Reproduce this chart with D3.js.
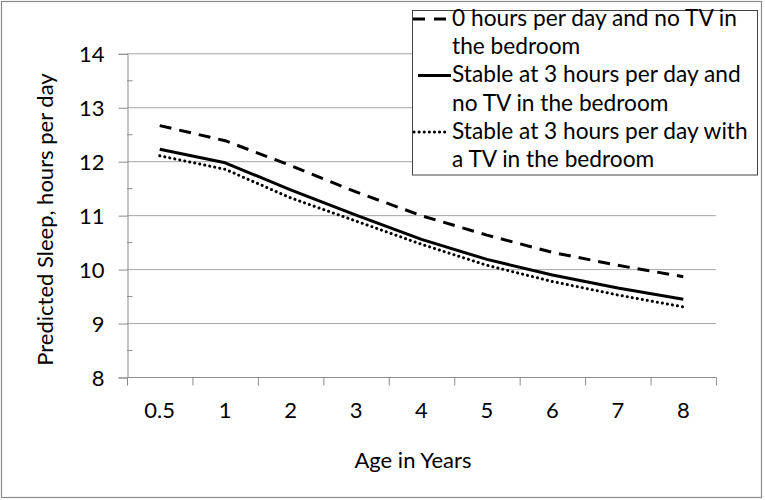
<!DOCTYPE html>
<html>
<head>
<meta charset="utf-8">
<script src="https://cdn.jsdelivr.net/npm/d3@7"></script>
<style>
body{margin:0;background:#fff;}
text{font-family:Lato,"Open Sans",sans-serif;fill:#000;}
</style>
</head>
<body>
<svg id="chart" width="765" height="500"></svg>
<script>
const categories = ["0.5","1","2","3","4","5","6","7","8"];
const seriesNames = [
  ["0 hours per day and no TV in","the bedroom"],
  ["Stable at 3 hours per day and","no TV in the bedroom"],
  ["Stable at 3 hours per day with","a TV in the bedroom"]
];
const noTV0 = [12.66, 12.38, 11.92, 11.43, 10.99, 10.63, 10.31, 10.07, 9.86];
const stableNoTV = [12.22, 11.97, 11.47, 11.0, 10.55, 10.18, 9.89, 9.65, 9.44];
const stableTV = [12.1, 11.85, 11.32, 10.89, 10.46, 10.07, 9.77, 9.52, 9.3];
const yTicks = [8, 9, 10, 11, 12, 13, 14];
const yMinor = [8.5, 9.5, 10.5, 11.5, 12.5, 13.5];

const svg = d3.select("#chart");
const L = 127, R = 716, T = 53.3, B = 377;

svg.append("rect").attr("x",1.5).attr("y",1.5).attr("width",760).attr("height",496)
  .attr("fill","#fff").attr("stroke","#8c8c8c").attr("stroke-width",1.2);

const x = d3.scaleBand().domain(categories).range([L,R]);
const y = d3.scaleLinear().domain([8,14]).range([B,T]);

// gridlines
svg.append("g").selectAll("line").data(yTicks.slice(1)).join("line")
  .attr("x1",L).attr("x2",R).attr("y1",d=>y(d)+0.5).attr("y2",d=>y(d)+0.5)
  .attr("stroke","#a6a6a6").attr("stroke-width",1);

// y axis
const yAxis = d3.axisLeft(y).tickValues(yTicks).tickSize(9).tickPadding(14).tickFormat(d3.format("d"));
const gy = svg.append("g").attr("transform",`translate(${L+0.5},0.5)`).call(yAxis);
gy.select(".domain").attr("stroke","#8c8c8c");
gy.selectAll(".tick line").attr("stroke","#8c8c8c");
gy.selectAll(".tick text").attr("font-size",22).attr("font-family","Lato").attr("fill","#000").attr("dy","0.35em");
// minor ticks
svg.append("g").selectAll("line").data(yMinor).join("line")
  .attr("x1",L).attr("x2",L+5.5).attr("y1",d=>y(d)+0.5).attr("y2",d=>y(d)+0.5)
  .attr("stroke","#8c8c8c");

// x axis
const gx = svg.append("g").attr("transform",`translate(0,${B+0.5})`);
gx.append("line").attr("x1",L).attr("x2",R).attr("stroke","#8c8c8c");
const bounds = categories.map(c=>x(c)).concat([R]);
gx.selectAll("line.tk").data(bounds).join("line").attr("class","tk")
  .attr("x1",d=>d+0.5).attr("x2",d=>d+0.5).attr("y1",0).attr("y2",8).attr("stroke","#8c8c8c");
gx.selectAll("text").data(categories).join("text")
  .attr("x",d=>x(d)+x.bandwidth()/2).attr("y",33).attr("dy","0.35em")
  .attr("text-anchor","middle").attr("font-size",22).text(d=>d);

// titles
svg.append("text").attr("x",413).attr("y",460).attr("dy","0.35em").attr("text-anchor","middle")
  .attr("font-size",22).text("Age in Years");
svg.append("text").attr("transform","translate(45,219.5) rotate(-90)").attr("dy","0.35em")
  .attr("text-anchor","middle").attr("font-size",22).text("Predicted Sleep, hours per day");

// lines
const line = d3.line().x((d,i)=>x(categories[i])+x.bandwidth()/2).y(d=>y(d));
const styles = [
  {data:noTV0, dash:"12,8", cap:"butt"},
  {data:stableNoTV, dash:null, cap:"butt"},
  {data:stableTV, dash:"0.1,5", cap:"round"}
];
styles.forEach(s=>{
  svg.append("path").attr("d",line(s.data)).attr("fill","none").attr("stroke","#000")
    .attr("stroke-width",3).attr("stroke-dasharray",s.dash).attr("stroke-linecap",s.cap)
    .attr("stroke-linejoin","round");
});

// legend
const lg = svg.append("g");
lg.append("rect").attr("x",412.5).attr("y",10.5).attr("width",345).attr("height",164.5)
  .attr("fill","#fff").attr("stroke","#444").attr("stroke-width",1);
const lineY = [[18,46.5],[74.5,103],[131,159.5]];
const symX = [[413,450],[418,451],[414,448]];
styles.forEach((s,i)=>{
  lg.append("line").attr("x1",symX[i][0]).attr("x2",symX[i][1])
    .attr("y1",lineY[i][0]+1).attr("y2",lineY[i][0]+1)
    .attr("stroke","#000").attr("stroke-width",3)
    .attr("stroke-dasharray", i===0?"12,9":(i===2?"0.1,5":null)).attr("stroke-linecap",s.cap);
  seriesNames[i].forEach((t,j)=>{
    lg.append("text").attr("x",452).attr("y",lineY[i][j]).attr("dy","0.35em")
      .attr("font-size",22.7).text(t);
  });
});
</script>
</body>
</html>
